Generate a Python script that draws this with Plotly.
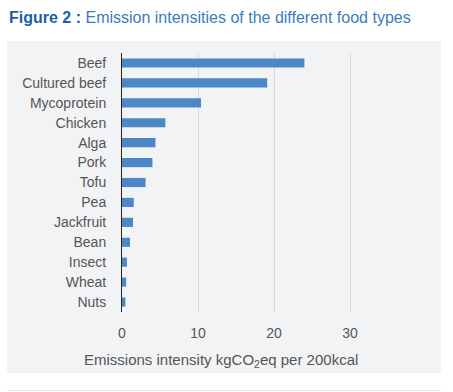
import plotly.graph_objects as go

categories = ["Beef", "Cultured beef", "Mycoprotein", "Chicken", "Alga", "Pork", "Tofu",
              "Pea", "Jackfruit", "Bean", "Insect", "Wheat", "Nuts"]
values = [24.0, 19.1, 10.4, 5.7, 4.4, 4.0, 3.1, 1.55, 1.45, 1.05, 0.65, 0.55, 0.45]
x_ticks = [0, 10, 20, 30]

W, H = 453, 392
L, R, T, B = 122, 388, 53, 312  # plot area in px
pw, ph = R - L, B - T

def px_x(p):
    return (p - L) / pw

def px_y(p):
    return (B - p) / ph

fig = go.Figure(go.Bar(
    x=values, y=categories, orientation="h",
    marker=dict(color="#4e87c6", line=dict(width=0)),
    width=0.46,
))

fig.update_layout(
    width=W, height=H,
    margin=dict(l=L, r=W - R, t=T, b=H - B, autoexpand=False),
    paper_bgcolor="white", plot_bgcolor="rgba(0,0,0,0)",
    font=dict(family="Liberation Sans, Arial, sans-serif", size=14, color="#555555"),
    showlegend=False,
    xaxis=dict(range=[0, 35], tickvals=x_ticks, showgrid=True, gridcolor="#d8dadd",
               gridwidth=1, zeroline=False, showline=False, ticks="outside",
               ticklen=8, tickcolor="rgba(0,0,0,0)", automargin=False,
               tickfont=dict(size=14, color="#555555")),
    yaxis=dict(categoryorder="array", categoryarray=categories[::-1],
               showgrid=False, zeroline=False, showline=True, linecolor="#222222",
               linewidth=1, ticks="outside", ticklen=12, tickcolor="rgba(0,0,0,0)",
               automargin=False, tickfont=dict(size=14, color="#555555")),
    shapes=[
        dict(type="rect", xref="paper", yref="paper", layer="below",
             x0=px_x(7), x1=px_x(441), y0=px_y(373), y1=px_y(41),
             fillcolor="#f2f3f5", line=dict(width=0)),
        dict(type="line", xref="paper", yref="paper",
             x0=px_x(7), x1=px_x(441), y0=px_y(390.5), y1=px_y(390.5),
             line=dict(color="#e4e6e8", width=1)),
    ],
    annotations=[
        dict(text="<b>Figure 2 :</b><span style='color:#3b7cc1'> Emission intensities of the different food types</span>",
             xref="paper", yref="paper", x=px_x(7), y=px_y(17), xanchor="left", yanchor="middle",
             showarrow=False, font=dict(size=16, color="#1a5fa8")),
        dict(text="Emissions intensity kgCO<sub>2</sub>eq per 200kcal",
             xref="paper", yref="paper", x=px_x(221), y=px_y(360), xanchor="center", yanchor="middle",
             showarrow=False, font=dict(size=15, color="#555555")),
    ],
)

fig.write_html("out.html", config={"displayModeBar": False},
               post_script="document.body.style.margin='0';document.body.style.padding='0';")
